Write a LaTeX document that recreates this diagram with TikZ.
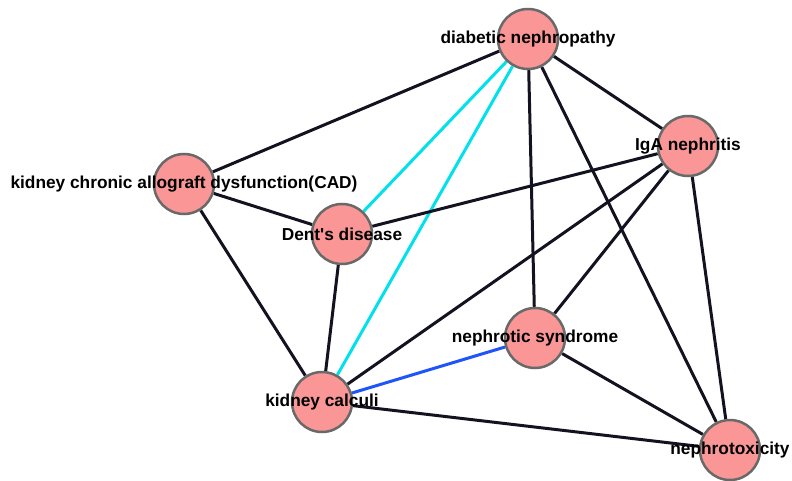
\documentclass[tikz,border=0pt]{standalone}
\usepackage{fontspec}
\setsansfont{Liberation Sans}
\usetikzlibrary{backgrounds}

\definecolor{nodefill}{RGB}{250,150,150}
\definecolor{nodeline}{RGB}{105,105,105}
\definecolor{edgedark}{RGB}{18,18,32}
\definecolor{edgecyan}{RGB}{0,225,235}
\definecolor{edgeblue}{RGB}{30,85,250}

\begin{document}
\begin{tikzpicture}[
      x=1pt,y=-1pt,
      font=\sffamily\bfseries\fontsize{17.3}{19}\selectfont,
      disease/.style={circle,draw=nodeline,line width=2.5pt,fill=nodefill,minimum size=60pt,inner sep=0pt},
      link/.style={line width=3pt,draw=edgedark},
      cyanlink/.style={line width=3pt,draw=edgecyan},
      bluelink/.style={line width=3pt,draw=edgeblue},
      ]
    \useasboundingbox (0,0) rectangle (792,481);

    % Position the nodes
    \node[disease,label=center:{diabetic nephropathy}] (diab) at (528,39) {};
    \node[disease,label=center:{IgA nephritis}] (iga) at (688,146) {};
    \node[disease,label=center:{kidney chronic allograft dysfunction(CAD)}] (cad) at (184,184) {};
    \node[disease,label=center:{Dent\textquotesingle s disease}] (dent) at (342,234) {};
    \node[disease,label=center:{nephrotic syndrome}] (nephsyn) at (535,338) {};
    \node[disease,label=center:{kidney calculi}] (calculi) at (322,402) {};
    \node[disease,label=center:{nephrotoxicity}] (ntox) at (730,450) {};

    % Draw the edges
    \begin{scope}[on background layer]
    \path (diab) edge[link] (cad);
    \path (diab) edge[cyanlink] (dent);
    \path (diab) edge[cyanlink] (calculi);
    \path (diab) edge[link] (iga);
    \path (diab) edge[link] (nephsyn);
    \path (diab) edge[link] (ntox);

    \path (iga) edge[link] (dent);
    \path (iga) edge[link] (calculi);
    \path (iga) edge[link] (nephsyn);
    \path (iga) edge[link] (ntox);

    \path (cad) edge[link] (dent);
    \path (cad) edge[link] (calculi);
    \path (dent) edge[link] (calculi);

    \path (nephsyn) edge[bluelink] (calculi);
    \path (nephsyn) edge[link] (ntox);
    \path (calculi) edge[link] (ntox);
    \end{scope}

  \end{tikzpicture}
\end{document}
